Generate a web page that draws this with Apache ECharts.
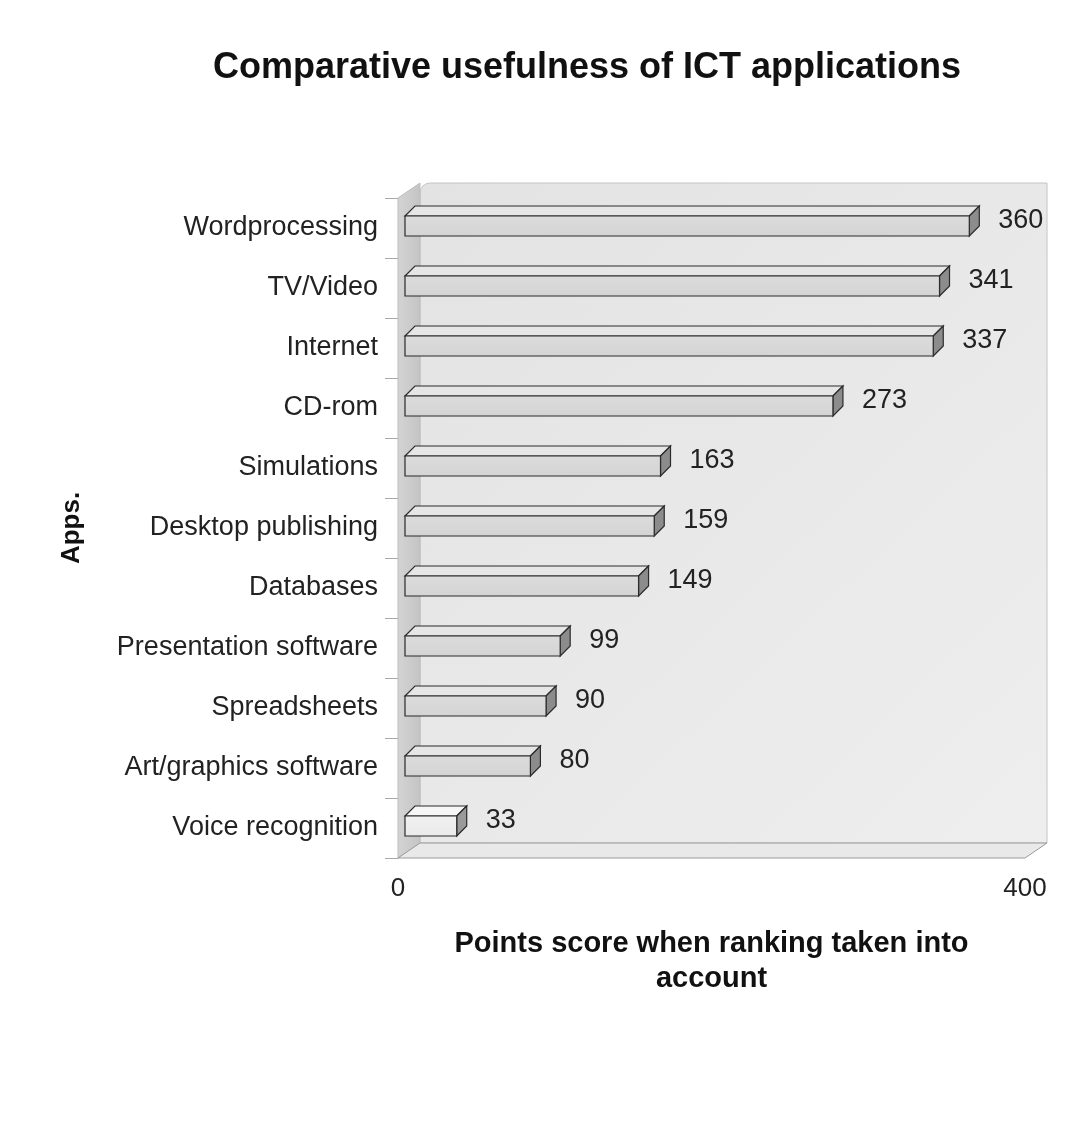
<!DOCTYPE html>
<html>
<head>
<meta charset="utf-8">
<title>Comparative usefulness of ICT applications</title>
<script src="https://cdn.jsdelivr.net/npm/echarts@6/dist/echarts.min.js"></script>
<style>
  html, body { margin: 0; padding: 0; background: #ffffff; }
  #chart { width: 1078px; height: 1124px; }
</style>
</head>
<body>
<div id="chart"></div>
<script>
// Applications, listed top to bottom
const categories = [
  'Wordprocessing', 'TV/Video', 'Internet', 'CD-rom', 'Simulations',
  'Desktop publishing', 'Databases', 'Presentation software',
  'Spreadsheets', 'Art/graphics software', 'Voice recognition'
];
// Points score for each application
const scores = [360, 341, 337, 273, 163, 159, 149, 99, 90, 80, 33];
// Value axis range
const axisMin = 0;
const axisMax = 400;

const FONT = '"Liberation Sans", Arial, Helvetica, sans-serif';
const WALL_DX = 22, WALL_DY = -15;   // depth of the chart box
const BAR_DX = 10, BAR_DY = -10;     // depth of each bar
const BAR_SHIFT = 7;                 // bars sit slightly behind the front plane

const chart = echarts.init(document.getElementById('chart'), null, { renderer: 'canvas' });

// Back wall, left wall and floor of the 3-D box
function renderWalls(params, api) {
  const cs = params.coordSys;
  const x0 = cs.x, x1 = cs.x + cs.width, y0 = cs.y, y1 = cs.y + cs.height;
  return {
    type: 'group',
    children: [
      {
        type: 'rect',
        shape: { x: x0 + WALL_DX, y: y0 + WALL_DY, width: cs.width, height: cs.height, r: [10, 0, 0, 0] },
        style: {
          fill: new echarts.graphic.LinearGradient(0, 0, 1, 1, [
            { offset: 0, color: '#e3e3e3' },
            { offset: 1, color: '#eeeeee' }
          ]),
          stroke: '#c4c4c4', lineWidth: 1
        }
      },
      {
        type: 'polygon',
        shape: { points: [[x0, y0], [x0 + WALL_DX, y0 + WALL_DY], [x0 + WALL_DX, y1 + WALL_DY], [x0, y1]] },
        style: {
          fill: new echarts.graphic.LinearGradient(0, 0, 1, 0, [
            { offset: 0, color: '#d4d4d4' },
            { offset: 1, color: '#c4c4c4' }
          ]),
          stroke: '#bdbdbd', lineWidth: 1
        }
      },
      {
        type: 'polygon',
        shape: { points: [[x0, y1], [x0 + WALL_DX, y1 + WALL_DY], [x1 + WALL_DX, y1 + WALL_DY], [x1, y1]] },
        style: { fill: '#e9e9e9', stroke: '#9a9a9a', lineWidth: 1 }
      }
    ]
  };
}

// One 3-D bar: front face, top face, right side face and its value label
function renderBar(params, api) {
  const value = api.value(0);
  const cat = api.value(1);
  const start = api.coord([axisMin, cat]);
  const end = api.coord([value, cat]);
  const xl = start[0] + BAR_SHIFT;
  const xr = end[0] + BAR_SHIFT;
  const yc = end[1] - 2;
  const yt = yc - 10, yb = yc + 10;
  const last = params.dataIndex === scores.length - 1;
  const front = last ? '#f1f1f1' : '#dcdcdc';
  const top = last ? '#f6f6f6' : '#e6e6e6';
  const side = last ? '#9a9a9a' : '#8c8c8c';
  const stroke = '#2b2b2b';
  return {
    type: 'group',
    children: [
      {
        type: 'polygon',
        shape: { points: [[xl, yt], [xl + BAR_DX, yt + BAR_DY], [xr + BAR_DX, yt + BAR_DY], [xr, yt]] },
        style: { fill: top, stroke: stroke, lineWidth: 1.2 }
      },
      {
        type: 'polygon',
        shape: { points: [[xr, yt], [xr + BAR_DX, yt + BAR_DY], [xr + BAR_DX, yb + BAR_DY], [xr, yb]] },
        style: { fill: side, stroke: stroke, lineWidth: 1.2 }
      },
      {
        type: 'rect',
        shape: { x: xl, y: yt, width: xr - xl, height: yb - yt },
        style: {
          fill: new echarts.graphic.LinearGradient(0, 0, 0, 1, [
            { offset: 0, color: front },
            { offset: 1, color: last ? '#eaeaea' : '#d4d4d4' }
          ]),
          stroke: stroke, lineWidth: 1.2
        }
      },
      {
        type: 'text',
        style: {
          text: String(value),
          x: xr + BAR_DX + 19,
          y: yc - 5,
          verticalAlign: 'middle',
          align: 'left',
          font: '27px ' + FONT,
          fill: '#222222'
        }
      }
    ]
  };
}

const option = {
  backgroundColor: '#ffffff',
  animation: false,
  graphic: [
    {
      type: 'text',
      x: 587,
      y: 68,
      style: {
        text: 'Comparative usefulness of ICT applications',
        align: 'center',
        verticalAlign: 'middle',
        font: 'bold 36px ' + FONT,
        fill: '#111111'
      }
    }
  ],
  grid: { left: 398, top: 198, width: 627, height: 660, containLabel: false },
  xAxis: {
    type: 'value',
    min: axisMin,
    max: axisMax,
    interval: 400,
    axisLine: { show: false },
    axisTick: { show: false },
    splitLine: { show: false },
    axisLabel: { margin: 18, fontSize: 26, fontFamily: FONT, color: '#222222' },
    name: 'Points score when ranking taken into\naccount',
    nameLocation: 'middle',
    nameGap: 68,
    nameTextStyle: { fontSize: 29, fontWeight: 'bold', fontFamily: FONT, color: '#111111', lineHeight: 35, align: 'center' }
  },
  yAxis: {
    type: 'category',
    data: categories,
    inverse: true,
    axisLine: { show: false },
    axisTick: { show: true, length: 13, lineStyle: { color: '#a8a8a8' } },
    splitLine: { show: false },
    axisLabel: { margin: 20, fontSize: 27, fontFamily: FONT, color: '#222222' },
    name: 'Apps.',
    nameLocation: 'middle',
    nameRotate: 90,
    nameGap: 313,
    nameTextStyle: { fontSize: 26, fontWeight: 'bold', fontFamily: FONT, color: '#111111' }
  },
  series: [
    {
      type: 'custom',
      name: 'walls',
      silent: true,
      z: 1,
      renderItem: renderWalls,
      data: [[0, 0]],
      encode: { x: 0, y: 1 }
    },
    {
      type: 'custom',
      name: 'Points score',
      z: 5,
      renderItem: renderBar,
      data: scores.map((v, i) => [v, i]),
      encode: { x: 0, y: 1 }
    }
  ]
};

chart.setOption(option);
</script>
</body>
</html>
